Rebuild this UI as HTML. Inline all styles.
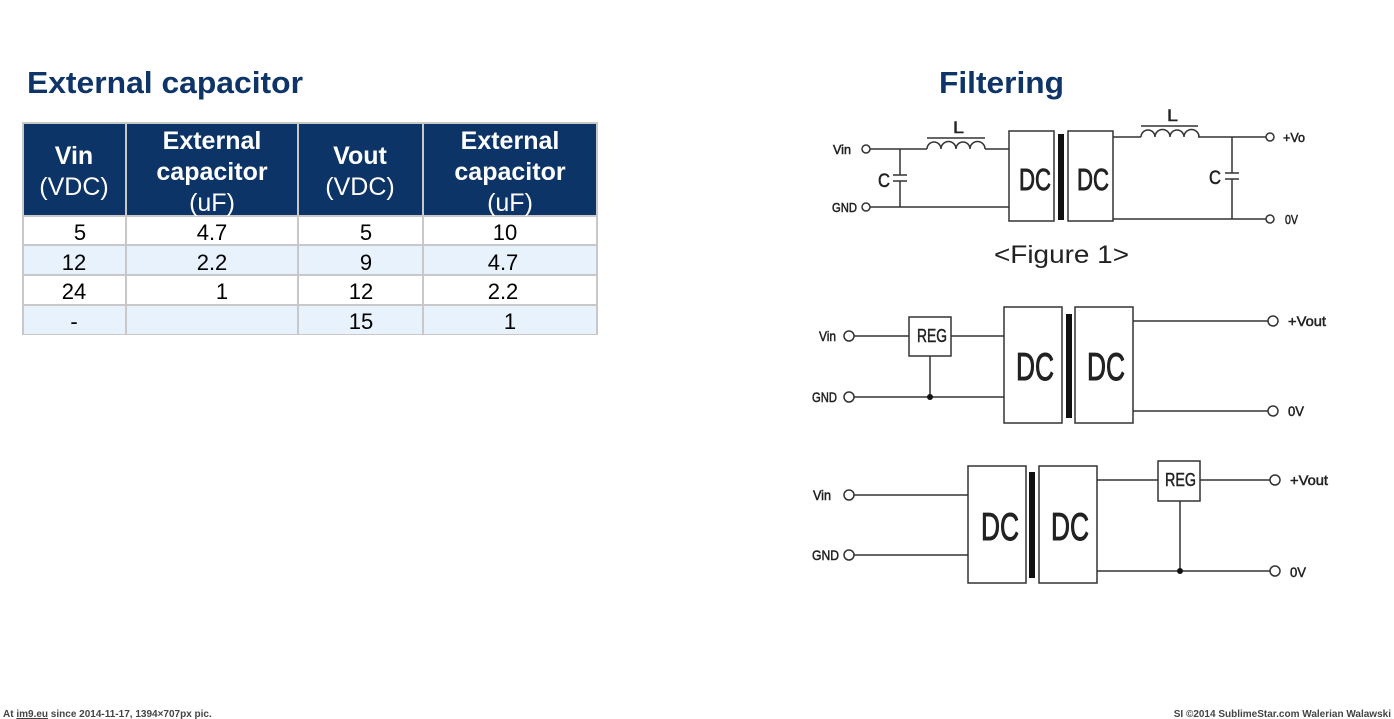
<!DOCTYPE html>
<html><head><meta charset="utf-8"><style>
html,body{margin:0;padding:0;background:#fff;width:1394px;height:719px;overflow:hidden}
svg{display:block}
</style></head><body>
<svg width="1394" height="719" viewBox="0 0 1394 719" xmlns="http://www.w3.org/2000/svg" style="font-family:'Liberation Sans',Arial,sans-serif">
<text x="27" y="93" font-size="31" font-weight="bold" fill="#0f3568" textLength="276" lengthAdjust="spacingAndGlyphs">External capacitor</text>
<text x="939" y="93" font-size="31" font-weight="bold" fill="#0f3568" textLength="125" lengthAdjust="spacingAndGlyphs">Filtering</text>

<!-- table -->
<rect x="23" y="123" width="574" height="211" fill="#fff" stroke="#c8c8c8" stroke-width="2"/>
<rect x="24" y="124" width="572" height="92" fill="#0d3466"/>
<rect x="24" y="246" width="572" height="29" fill="#e8f2fc"/>
<rect x="24" y="306" width="572" height="28" fill="#e8f2fc"/>
<g stroke="#c8c8c8" stroke-width="2">
<line x1="126" y1="123" x2="126" y2="334"/><line x1="298" y1="123" x2="298" y2="334"/><line x1="423" y1="123" x2="423" y2="334"/>
<line x1="23" y1="216" x2="597" y2="216"/><line x1="23" y1="245" x2="597" y2="245"/><line x1="23" y1="275" x2="597" y2="275"/><line x1="23" y1="305" x2="597" y2="305"/>
</g>
<g fill="#fff" font-size="25" text-anchor="middle">
<text x="74" y="164" font-weight="bold">Vin</text><text x="74" y="195">(VDC)</text>
<text x="212" y="149" font-weight="bold">External</text><text x="212" y="180" font-weight="bold">capacitor</text><text x="212" y="211">(uF)</text>
<text x="360" y="164" font-weight="bold">Vout</text><text x="360" y="195">(VDC)</text>
<text x="510" y="149" font-weight="bold">External</text><text x="510" y="180" font-weight="bold">capacitor</text><text x="510" y="211">(uF)</text>
</g>
<g fill="#000" font-size="22" text-anchor="middle">
<text x="80" y="240">5</text><text x="212" y="240">4.7</text><text x="366" y="240">5</text><text x="505" y="240">10</text>
<text x="74" y="270">12</text><text x="212" y="270">2.2</text><text x="366" y="270">9</text><text x="503" y="270">4.7</text>
<text x="74" y="299">24</text><text x="222" y="299">1</text><text x="361" y="299">12</text><text x="503" y="299">2.2</text>
<text x="74" y="329">-</text><text x="361" y="329">15</text><text x="510" y="329">1</text>
</g>

<g stroke="#222" stroke-width="0.5">
<!-- Figure 1 labels -->
<g fill="#222" font-size="13">
<text x="833" y="154" textLength="18" lengthAdjust="spacingAndGlyphs">Vin</text>
<text x="832" y="212" textLength="25" lengthAdjust="spacingAndGlyphs">GND</text>
<text x="1283" y="142" textLength="22" lengthAdjust="spacingAndGlyphs">+Vo</text>
<text x="1285" y="224" textLength="13" lengthAdjust="spacingAndGlyphs">0V</text>
</g>
<text x="878" y="187" font-size="19" fill="#222" textLength="12" lengthAdjust="spacingAndGlyphs">C</text>
<text x="1209" y="184" font-size="19" fill="#222" textLength="12" lengthAdjust="spacingAndGlyphs">C</text>
<text x="953" y="133" font-size="17" fill="#222" textLength="11" lengthAdjust="spacingAndGlyphs">L</text>
<text x="1167" y="121" font-size="17" fill="#222" textLength="11" lengthAdjust="spacingAndGlyphs">L</text>
<text x="1019" y="190" font-size="31" fill="#222" stroke-width="0.9" textLength="32" lengthAdjust="spacingAndGlyphs">DC</text>
<text x="1077" y="190" font-size="31" fill="#222" stroke-width="0.9" textLength="32" lengthAdjust="spacingAndGlyphs">DC</text>
</g>
<text x="994" y="263" font-size="25" fill="#222" textLength="135" lengthAdjust="spacingAndGlyphs">&lt;Figure 1&gt;</text>

<!-- Figure 1 -->
<g stroke="#333" stroke-width="1.5" fill="none">
<circle cx="866" cy="149" r="4"/><circle cx="866" cy="207" r="4"/>
<path d="M870 149 H927 M985 149 H1009 M870 207 H1009"/>
<path d="M900 149 V175 M900 181 V207 M893 175 H907 M893 181 H907"/>
<path d="M927 149 a7 7 0 0 1 14 0 a7 7 0 0 1 15 0 a7 7 0 0 1 14 0 a7 7 0 0 1 15 0"/>
<path d="M927 138 H985"/>
<rect x="1009" y="131" width="45" height="90"/>
<rect x="1068" y="131" width="45" height="90"/>
<path d="M1113 137 H1141 M1198 137 H1266 M1113 219 H1266"/>
<path d="M1141 137 a7 7 0 0 1 14 0 a7 7 0 0 1 15 0 a7 7 0 0 1 14 0 a7 7 0 0 1 15 0"/>
<path d="M1141 126 H1198"/>
<path d="M1232 137 V173 M1232 179 V219 M1225 173 H1239 M1225 179 H1239"/>
<circle cx="1270" cy="137" r="4"/><circle cx="1270" cy="219" r="4"/>
</g>
<rect x="1058" y="134" width="6" height="86" fill="#111"/>

<!-- Figure 2 -->
<g stroke="#333" stroke-width="1.5" fill="none">
<circle cx="849" cy="336" r="5"/><circle cx="849" cy="397" r="5"/>
<path d="M854 336 H909 M951 336 H1004 M854 397 H1004 M930 356 V397"/>
<rect x="909" y="317" width="42" height="39"/>
<rect x="1004" y="307" width="58" height="116"/>
<rect x="1075" y="307" width="58" height="116"/>
<path d="M1133 321 H1268 M1133 411 H1268"/>
<circle cx="1273" cy="321" r="5"/><circle cx="1273" cy="411" r="5"/>
</g>
<circle cx="930" cy="397" r="3" fill="#111"/>
<rect x="1066" y="314" width="6" height="104" fill="#111"/>
<g fill="#222" font-size="14" stroke="#222" stroke-width="0.5">
<text x="819" y="341" textLength="17" lengthAdjust="spacingAndGlyphs">Vin</text>
<text x="812" y="402" textLength="25" lengthAdjust="spacingAndGlyphs">GND</text>
<text x="1288" y="326" textLength="38" lengthAdjust="spacingAndGlyphs">+Vout</text>
<text x="1288" y="416" textLength="16" lengthAdjust="spacingAndGlyphs">0V</text>
<text x="917" y="342" font-size="18" textLength="30" lengthAdjust="spacingAndGlyphs">REG</text>
<text x="1016" y="380" font-size="39" stroke-width="1" textLength="38" lengthAdjust="spacingAndGlyphs">DC</text>
<text x="1087" y="380" font-size="39" stroke-width="1" textLength="38" lengthAdjust="spacingAndGlyphs">DC</text>
</g>

<!-- Figure 3 -->
<g stroke="#333" stroke-width="1.5" fill="none">
<circle cx="849" cy="495" r="5"/><circle cx="849" cy="555" r="5"/>
<path d="M854 495 H968 M854 555 H968"/>
<rect x="968" y="466" width="58" height="117"/>
<rect x="1039" y="466" width="58" height="117"/>
<path d="M1097 480 H1158 M1200 480 H1270 M1097 571 H1270 M1180 501 V571"/>
<rect x="1158" y="461" width="42" height="40"/>
<circle cx="1275" cy="480" r="5"/><circle cx="1275" cy="571" r="5"/>
</g>
<circle cx="1180" cy="571" r="3" fill="#111"/>
<rect x="1029" y="472" width="6" height="106" fill="#111"/>
<g fill="#222" font-size="14" stroke="#222" stroke-width="0.5">
<text x="813" y="500" textLength="18" lengthAdjust="spacingAndGlyphs">Vin</text>
<text x="812" y="560" textLength="27" lengthAdjust="spacingAndGlyphs">GND</text>
<text x="1290" y="485" textLength="38" lengthAdjust="spacingAndGlyphs">+Vout</text>
<text x="1290" y="577" textLength="16" lengthAdjust="spacingAndGlyphs">0V</text>
<text x="1165" y="486" font-size="18" textLength="31" lengthAdjust="spacingAndGlyphs">REG</text>
<text x="981" y="540" font-size="39" stroke-width="1" textLength="38" lengthAdjust="spacingAndGlyphs">DC</text>
<text x="1051" y="540" font-size="39" stroke-width="1" textLength="38" lengthAdjust="spacingAndGlyphs">DC</text>
</g>

<!-- footer -->
<text x="3" y="717" font-size="10" font-weight="bold" fill="#444">At <tspan text-decoration="underline">im9.eu</tspan> since 2014-11-17, 1394×707px pic.</text>
<text x="1391" y="717" font-size="10" font-weight="bold" fill="#444" text-anchor="end">SI ©2014 SublimeStar.com Walerian Walawski</text>
</svg>
</body></html>
